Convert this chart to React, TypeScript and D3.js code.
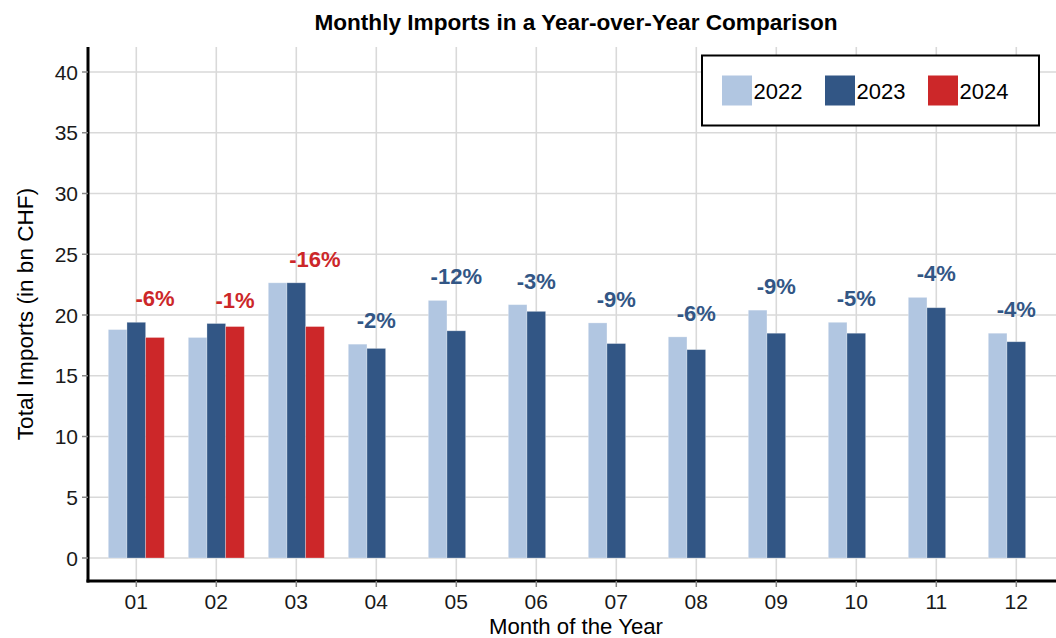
import React from "react";
import * as d3 from "d3";

const months = ["01", "02", "03", "04", "05", "06", "07", "08", "09", "10", "11", "12"];
const years = ["2022", "2023", "2024"];
const imports2022 = [18.8, 18.15, 22.65, 17.6, 21.2, 20.85, 19.35, 18.2, 20.4, 19.4, 21.45, 18.5];
const imports2023 = [19.4, 19.3, 22.65, 17.25, 18.7, 20.3, 17.65, 17.15, 18.5, 18.5, 20.6, 17.8];
const imports2024 = [18.15, 19.05, 19.05, null, null, null, null, null, null, null, null, null];
const pctLabels = ["-6%", "-1%", "-16%", "-2%", "-12%", "-3%", "-9%", "-6%", "-9%", "-5%", "-4%", "-4%"];
const yTicks = [0, 5, 10, 15, 20, 25, 30, 35, 40];

const colors: Record<string, string> = { "2022": "#b1c6e1", "2023": "#325685", "2024": "#cc2729" };
const FONT = "'Liberation Sans', Arial, sans-serif";

export default function App() {
  const W = 1056, H = 638;
  const pL = 88, pR = 1064, pT = 47, pB = 581;
  const x = d3.scalePoint<string>().domain(months).range([136.3, 1016.3]);
  const sub = d3.scaleBand<string>().domain(years).range([-28, 28]).padding(0);
  const y = d3.scaleLinear().domain([0, 40]).range([558, 72]);
  const series: Record<string, (number | null)[]> = { "2022": imports2022, "2023": imports2023, "2024": imports2024 };

  return (
    <svg width={W} height={H} style={{ position: "absolute", left: 0, top: 0, background: "#fff" }} fontFamily={FONT}>
      <rect x={0} y={0} width={W} height={H} fill="#fff" />
      {/* gridlines */}
      {yTicks.map((t) => (
        <line key={"gy" + t} x1={pL} x2={pR} y1={y(t)} y2={y(t)} stroke="#d9d9d9" strokeWidth={1.6} />
      ))}
      {months.map((m) => (
        <line key={"gx" + m} x1={x(m)} x2={x(m)} y1={pT} y2={pB} stroke="#d9d9d9" strokeWidth={1.6} />
      ))}
      {/* bars */}
      {months.map((m, i) =>
        years.map((yr) => {
          const v = series[yr][i];
          if (v == null) return null;
          const x0 = (x(m) as number) + (sub(yr) as number);
          return (
            <rect key={m + yr} x={x0} y={y(v)} width={sub.bandwidth()} height={y(0) - y(v)} fill={colors[yr]} stroke="#ffffff" strokeOpacity={0.35} strokeWidth={0.8} />
          );
        })
      )}
      {/* pct labels */}
      {months.map((m, i) => {
        const last = imports2024[i] != null ? "2024" : "2023";
        const vals = years.map((yr) => series[yr][i]).filter((v) => v != null) as number[];
        const mx = d3.max(vals) as number;
        const cx = (x(m) as number) + (sub(last) as number) + sub.bandwidth() / 2;
        return (
          <text key={"p" + m} x={cx} y={y(mx) - 16} textAnchor="middle" fontWeight="bold" fontSize={22} fill={last === "2024" ? "#cc2729" : "#325685"}>
            {pctLabels[i]}
          </text>
        );
      })}
      {/* axes */}
      <line x1={pL} x2={pL} y1={pT} y2={pB + 1.5} stroke="#000" strokeWidth={3} />
      <line x1={pL - 1.5} x2={pR} y1={pB} y2={pB} stroke="#000" strokeWidth={3} />
      {yTicks.map((t) => (
        <g key={"ty" + t}>
          <line x1={pL - 6} x2={pL} y1={y(t)} y2={y(t)} stroke="#888" strokeWidth={1.5} />
          <text x={78} y={y(t)} dy="0.36em" textAnchor="end" fontSize={21} fill="#1a1a1a">{t}</text>
        </g>
      ))}
      {months.map((m) => (
        <g key={"tx" + m}>
          <line x1={x(m)} x2={x(m)} y1={pB} y2={pB + 6} stroke="#888" strokeWidth={1.5} />
          <text x={x(m)} y={608.5} textAnchor="middle" fontSize={21} fill="#1a1a1a">{m}</text>
        </g>
      ))}
      {/* axis titles */}
      <text x={(pL + pR) / 2} y={634} textAnchor="middle" fontSize={22.2} fill="#000">Month of the Year</text>
      <text transform={`translate(33,${(pT + pB) / 2}) rotate(-90)`} textAnchor="middle" fontSize={22.6} fill="#000">Total Imports (in bn CHF)</text>
      {/* title */}
      <text x={(pL + pR) / 2} y={30} textAnchor="middle" fontSize={22.6} fontWeight="bold" fill="#000">Monthly Imports in a Year-over-Year Comparison</text>
      {/* legend */}
      <rect x={702} y={55.5} width={337} height={70} fill="#fff" stroke="#000" strokeWidth={2} />
      {years.map((yr, i) => {
        const kx = 722 + i * 103;
        return (
          <g key={"lg" + yr}>
            <rect x={kx} y={75.5} width={30} height={30} fill={colors[yr]} />
            <text x={kx + 31.5} y={98.5} fontSize={22} fill="#000">{yr}</text>
          </g>
        );
      })}
    </svg>
  );
}
